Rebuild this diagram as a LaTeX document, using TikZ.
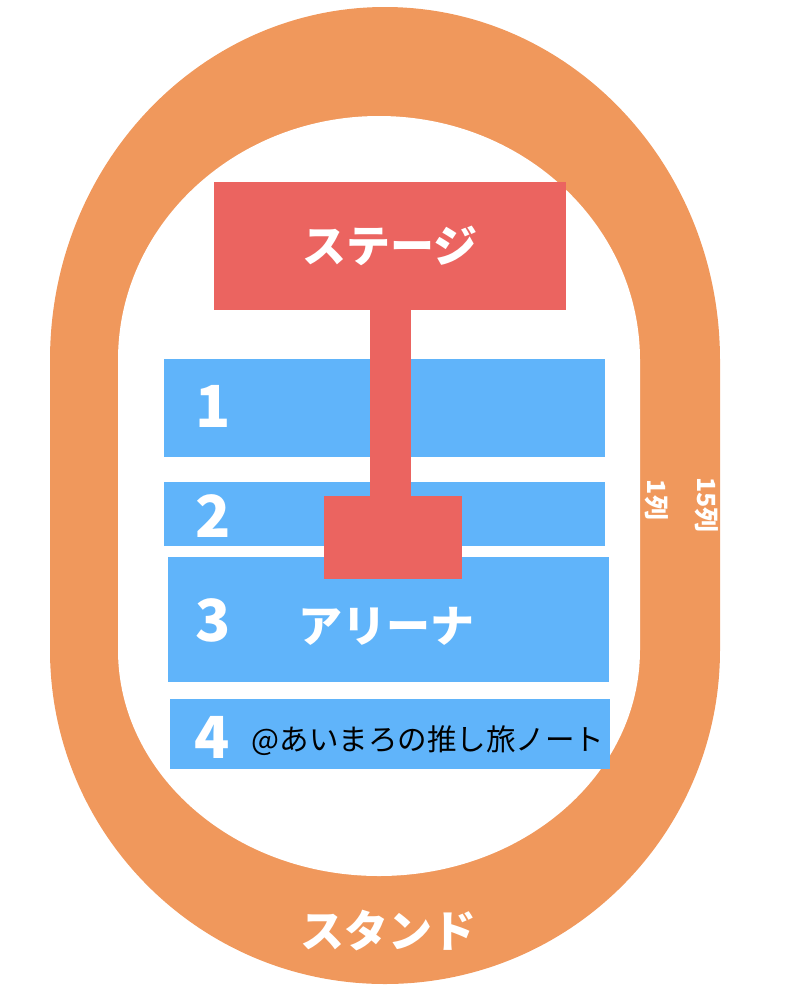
\documentclass[tikz,border=0pt]{standalone}
\usepackage{fontspec}
\newfontfamily\jpfont{Noto Sans CJK JP}
\usepackage{xcolor}
\usepackage{tikz}
\usetikzlibrary{shapes,arrows}
\definecolor{standorange}{HTML}{F0985C}
\definecolor{stagered}{HTML}{EB6460}
\definecolor{arenablue}{HTML}{60B4FA}

\begin{document}
\begin{tikzpicture}[x=1pt, y=-1pt]
    \tikzstyle{block} = [rectangle, inner sep=0pt, outer sep=0pt]
    \tikzstyle{seats} = [block, fill=arenablue, minimum width=441pt]
    \tikzstyle{stagebox} = [block, fill=stagered]
    \tikzstyle{num} = [text=white, font=\jpfont\bfseries\fontsize{58}{58}\selectfont]
    \tikzstyle{bigtext} = [text=white, font=\jpfont\bfseries\fontsize{44}{44}\selectfont]
    \tikzstyle{rowno} = [text=white, rotate=-90, font=\jpfont\bfseries\fontsize{25}{25}\selectfont]
    \tikzstyle{stem} = [draw=stagered, line width=41pt]

    \useasboundingbox (0,0) rectangle (798,994);

    % stand ring
    \fill[standorange] (50,360) arc[start angle=180, end angle=360, x radius=335, y radius=353]
        -- (720,650) arc[start angle=0, end angle=180, x radius=335, y radius=334] -- cycle;
    \fill[white] (118,360) arc[start angle=180, end angle=360, x radius=261, y radius=244]
        -- (640,650) arc[start angle=0, end angle=180, x radius=261, y radius=226] -- cycle;

    % arena blocks
    \node [seats, minimum height=98pt] (sec1) at (384.5,408) {};
    \node [seats, minimum height=64pt] (sec2) at (384.5,514) {};
    \node [seats, minimum height=125pt] (sec3) at (388.5,619.5) {};
    \node [seats, minimum width=440pt, minimum height=70pt] (sec4) at (390,734) {};

    % stage
    \node [stagebox, minimum width=352pt, minimum height=128pt, text=white,
        font=\jpfont\bfseries\fontsize{44}{44}\selectfont] (stage) at (390,246) {ステージ};
    \node [stagebox, minimum width=138pt, minimum height=83pt] (substage) at (393,537.5) {};
    \path [stem] (stage.south) -- (stage.south |- substage.north);

    % texts
    \node [num] (n1) at (213,406) {1};
    \node [num] (n2) at (213,516) {2};
    \node [num] (n3) at (213,620) {3};
    \node [num] (n4) at (212,737) {4};
    \node [bigtext] (arena) at (386,626) {アリーナ};
    \node [bigtext] (stand) at (388,931) {スタンド};
    \node [font=\jpfont\fontsize{29.5}{29.5}\selectfont] (credit) at (428,741) {@あいまろの推し旅ノート};
    \node [rowno] (row1) at (657,500) {1列};
    \node [rowno] (row15) at (707,505) {15列};
\end{tikzpicture}
\end{document}
